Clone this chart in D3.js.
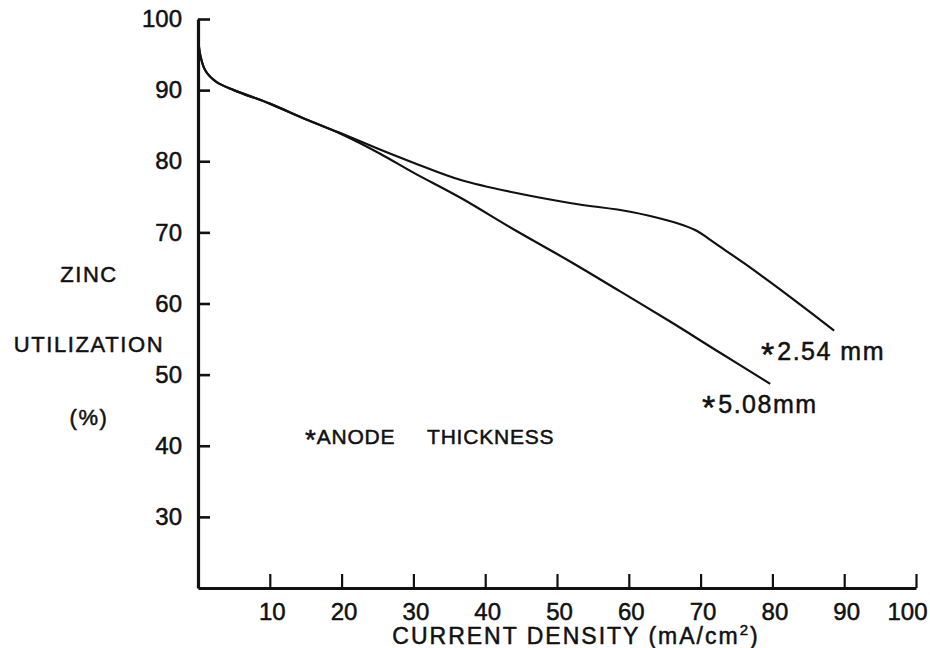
<!DOCTYPE html>
<html>
<head>
<meta charset="utf-8">
<script src="https://cdn.jsdelivr.net/npm/d3@7"></script>
<style>
  html, body { margin: 0; padding: 0; background: #fff; }
  svg { display: block; }
  text { font-family: "Liberation Sans", Arial, sans-serif; fill: #111; stroke: #111; stroke-width: 0.5px; }
</style>
</head>
<body>
<svg id="chart" width="930" height="648"></svg>
<script>
// ---- data ----
const xTicks = [10, 20, 30, 40, 50, 60, 70, 80, 90, 100];
const yTicks = [30, 40, 50, 60, 70, 80, 90, 100];

const density254 = [0, 0.3, 1, 2.5, 5, 10, 15, 20, 25, 30, 36.5, 44, 52, 60.2, 65.7, 67.6, 69.5, 71, 72.7, 76, 79.7, 82.5, 88.6];
const util254    = [97.5, 95, 92.8, 91.2, 90, 88.1, 85.9, 83.9, 81.8, 79.8, 77.4, 75.6, 74.1, 72.9, 71.6, 71.0, 70.2, 69.2, 68.0, 65.7, 63.0, 60.9, 56.2];

const density508 = [0, 0.3, 1, 2.5, 5, 10, 15, 20, 25.3, 30, 36.5, 44, 52, 58.8, 65.7, 72.2, 79.7];
const util508    = [97.5, 95, 92.8, 91.2, 90, 88.1, 85.9, 83.8, 81.1, 78.4, 74.9, 70.4, 65.8, 61.7, 57.5, 53.4, 48.7];

const seriesLabels = ["2.54 mm", "5.08mm"];

// ---- layout ----
const svg = d3.select("#chart");
const x = d3.scaleLinear().domain([0, 100]).range([198, 916]);
const y = d3.scaleLinear().domain([20, 100]).range([588, 19]);

// y axis
const yAxis = svg.append("g")
  .attr("transform", `translate(${x(0)},0)`)
  .call(d3.axisLeft(y).tickValues(yTicks).tickSize(-12).tickSizeOuter(0).tickPadding(16).tickFormat(d3.format("d")));
yAxis.select(".domain").attr("stroke", "#111").attr("stroke-width", 3.2);
yAxis.selectAll(".tick line").attr("stroke", "#111").attr("stroke-width", 2.6);
yAxis.selectAll(".tick text").attr("font-size", 24).attr("fill", "#111")
  .attr("font-family", "Liberation Sans, Arial, sans-serif");

// x axis
const xAxis = svg.append("g")
  .attr("transform", `translate(0,${y(20)})`)
  .call(d3.axisBottom(x).tickValues(xTicks).tickSize(-14).tickSizeOuter(0).tickPadding(15).tickFormat(d3.format("d")));
xAxis.select(".domain").attr("stroke", "#111").attr("stroke-width", 3.2);
xAxis.selectAll(".tick line").attr("stroke", "#111").attr("stroke-width", 2.2);
xAxis.selectAll(".tick text").attr("font-size", 24).attr("fill", "#111")
  .attr("font-family", "Liberation Sans, Arial, sans-serif")
  .attr("dx", d => d === 100 ? -9 : 2);

// curves
const line = d3.line()
  .x(d => x(d[0]))
  .y(d => y(d[1]))
  .curve(d3.curveCatmullRom.alpha(0.5));

const s254 = density254.map((d, i) => [d, util254[i]]);
const s508 = density508.map((d, i) => [d, util508[i]]);

svg.append("path").datum(s508).attr("d", line)
  .attr("fill", "none").attr("stroke", "#111").attr("stroke-width", 2.2);
svg.append("path").datum(s254).attr("d", line)
  .attr("fill", "none").attr("stroke", "#111").attr("stroke-width", 2.2);

// series labels
function seriesLabel(xx, yy, txt) {
  const t = svg.append("text").attr("x", xx).attr("y", yy);
  t.append("tspan").attr("font-size", 34).attr("dy", 6).text("*");
  t.append("tspan").attr("font-size", 25).attr("dy", -6).attr("dx", 3)
    .attr("letter-spacing", 1.5).text(txt);
}
seriesLabel(761, 360, seriesLabels[0]);
seriesLabel(702, 413, seriesLabels[1]);

// annotation
const an = svg.append("text").attr("x", 305).attr("y", 444).attr("font-size", 21).attr("letter-spacing", 0.8);
an.append("tspan").attr("font-size", 28).attr("dy", 5).text("*");
an.append("tspan").attr("dy", -5).text("ANODE");
svg.append("text").attr("x", 427).attr("y", 444)
  .attr("font-size", 21).attr("letter-spacing", 0.8).text("THICKNESS");

// y axis title (stacked)
[["ZINC", 282], ["UTILIZATION", 352], ["(%)", 425]].forEach(([t, yy]) => {
  svg.append("text").attr("x", 89).attr("y", yy)
    .attr("text-anchor", "middle").attr("font-size", 22)
    .attr("letter-spacing", 1.6).text(t);
});

// x axis title
const xt = svg.append("text").attr("x", 576).attr("y", 644)
  .attr("text-anchor", "middle").attr("font-size", 23).attr("letter-spacing", 2);
xt.append("tspan").text("CURRENT DENSITY (mA/cm");
xt.append("tspan").attr("dy", -9).attr("font-size", 15).text("2");
xt.append("tspan").attr("dy", 9).text(")");
</script>
</body>
</html>
